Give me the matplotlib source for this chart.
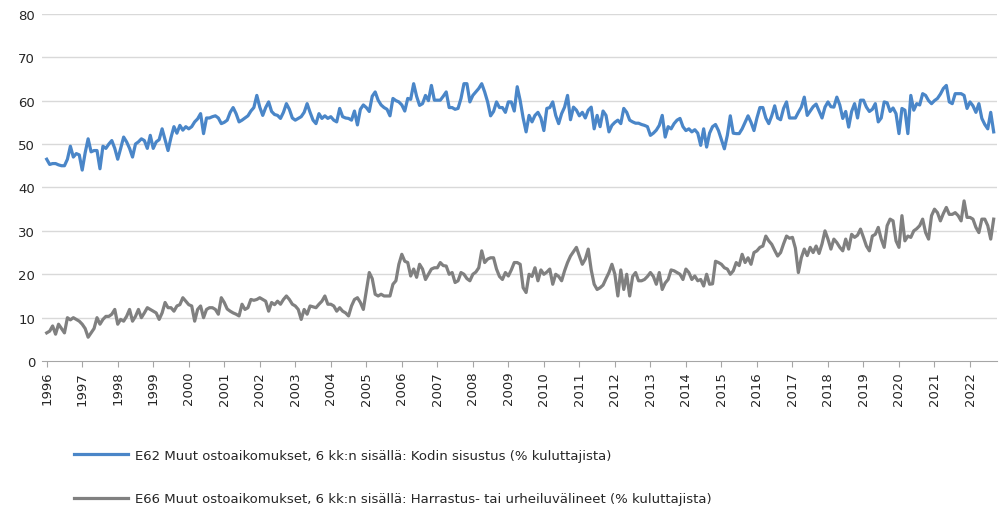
import numpy as np
import matplotlib
matplotlib.use("Agg")
import matplotlib.pyplot as plt

# monthly values, Jan 1996 onwards
start_year = 1996
kodin_sisustus = [
    46.5, 45.3, 45.5, 45.5, 45.2, 45.0, 45.0, 46.5, 49.5, 47.0, 47.8, 47.5,
    44.0, 48.0, 51.2, 48.2, 48.5, 48.5, 44.3, 49.5, 49.0, 50.0, 50.8, 49.0,
    46.5, 49.0, 51.6, 50.5, 49.0, 47.0, 50.0, 50.5, 51.2, 50.8, 49.0, 52.0,
    49.0, 50.5, 51.0, 53.5, 51.0, 48.5, 51.5, 54.0, 52.5, 54.3, 53.2, 54.0,
    53.5, 54.0, 55.1, 55.8, 57.0, 52.4, 56.0, 56.0, 56.3, 56.5, 56.0, 54.7,
    55.0, 55.5, 57.3, 58.4, 57.0, 55.1, 55.5, 56.0, 56.5, 57.6, 58.4, 61.2,
    58.5, 56.6, 58.4, 59.7, 57.5, 56.8, 56.6, 55.9, 57.3, 59.3, 58.0, 56.0,
    55.5, 55.9, 56.3, 57.3, 59.3, 57.3, 55.5, 54.7, 57.0, 55.9, 56.5, 55.9,
    56.3, 55.5, 55.1, 58.2, 56.3, 56.0, 55.9, 55.5, 57.6, 54.4, 58.0, 59.0,
    58.4, 57.5, 61.0, 62.0, 60.1, 59.0, 58.4, 58.0, 56.5, 60.5, 60.0, 59.7,
    59.0, 57.6, 60.5, 60.3, 63.9, 61.0, 58.9, 59.3, 61.2, 60.0, 63.5, 60.1,
    60.1, 60.1, 61.0, 62.0, 58.4, 58.4, 58.0, 58.2, 60.5, 63.9, 63.9, 59.7,
    61.2, 62.0, 62.8, 63.9, 62.0, 59.7, 56.5, 57.5, 59.7, 58.4, 58.4, 57.3,
    59.7, 59.7, 57.6, 63.2, 60.0, 56.0, 52.8, 56.6, 55.1, 56.6, 57.3, 56.0,
    53.1, 58.2, 58.4, 59.7, 56.6, 54.7, 57.0, 58.5, 61.2, 55.6, 58.5, 57.8,
    56.5, 57.3, 56.0, 57.8, 58.5, 53.5, 56.6, 54.0, 57.6, 56.6, 52.8, 54.3,
    55.0, 55.5, 54.7, 58.2, 57.3, 55.5, 55.1, 54.8, 54.8, 54.5, 54.3, 54.0,
    52.0, 52.5, 53.2, 54.3, 56.6, 51.6, 54.0, 53.5, 54.7, 55.5, 55.9, 54.0,
    53.1, 53.5, 52.8, 53.3, 52.5, 49.7, 53.5, 49.3, 52.5, 54.0, 54.5, 53.1,
    51.0, 48.9, 52.0, 56.5, 52.5, 52.4, 52.4, 53.5, 55.0, 56.5, 55.0, 53.1,
    56.0, 58.4, 58.4, 56.0, 54.7, 56.5, 58.8, 56.0, 55.6, 58.2, 59.7, 56.0,
    56.0, 56.0, 57.3, 58.5, 60.8, 56.6, 57.6, 58.6, 59.2, 57.6, 56.0, 58.5,
    59.7, 58.6, 58.5, 60.8, 59.0, 55.9, 57.5, 53.9, 57.5, 59.3, 56.0, 60.1,
    60.1, 58.5, 57.5, 58.0, 59.3, 55.1, 56.0, 59.7, 59.5, 57.5, 58.3, 57.0,
    52.4, 58.2, 57.8, 52.4, 61.2, 57.8, 59.3, 59.0, 61.6, 61.2, 60.0, 59.3,
    60.0, 60.5, 61.5, 62.8, 63.5, 59.7, 59.3, 61.6, 61.6, 61.6, 61.2, 58.2,
    59.7, 58.8, 57.3, 59.3, 55.9, 54.5, 53.5, 57.3, 52.8,
]
harrastus = [
    6.5, 6.9, 8.1, 6.2, 8.5, 7.5, 6.5, 10.0, 9.5, 10.0, 9.6, 9.2,
    8.5, 7.5, 5.5, 6.5, 7.5, 10.0, 8.5, 9.6, 10.3, 10.3, 10.8, 11.9,
    8.5, 9.6, 9.2, 10.3, 11.9, 9.2, 10.3, 11.9, 10.0, 11.1, 12.3, 11.9,
    11.5, 11.1, 9.6, 11.1, 13.5, 12.3, 12.3, 11.5, 12.7, 13.0, 14.6, 13.8,
    13.0, 12.7, 9.2, 11.9, 12.7, 10.0, 11.9, 12.3, 12.3, 11.9, 10.8, 14.6,
    13.5, 12.0, 11.5, 11.1, 10.8, 10.4, 13.1, 11.9, 12.3, 14.2, 14.0, 14.2,
    14.6, 14.2, 13.8, 11.5, 13.5, 13.0, 13.8, 13.1, 14.2, 15.0, 14.2, 13.1,
    12.7, 11.9, 9.6, 11.9, 10.8, 12.7, 12.5, 12.3, 13.1, 13.8, 15.0, 13.1,
    13.1, 12.7, 11.5, 12.3, 11.5, 11.1, 10.4, 12.7, 14.2, 14.6, 13.5, 11.9,
    16.2, 20.4, 19.0, 15.4, 15.0, 15.4, 15.0, 15.0, 15.0, 17.7, 18.5, 22.3,
    24.6, 23.0, 22.7, 19.6, 21.2, 19.3, 22.3, 21.2, 18.8, 20.0, 21.2, 21.5,
    21.5, 22.7, 22.0, 21.9, 20.0, 20.4, 18.1, 18.5, 20.4, 20.0, 19.0, 18.5,
    20.0, 20.5, 21.5, 25.4, 22.7, 23.5, 23.8, 23.8, 21.2, 19.5, 18.8, 20.4,
    19.6, 21.0, 22.7, 22.7, 22.3, 16.9, 15.8, 20.0, 19.5, 21.5, 18.5, 21.0,
    20.0, 20.5, 21.2, 17.7, 20.0, 19.5, 18.5, 20.8, 22.7, 24.2, 25.2, 26.2,
    24.2, 22.3, 23.5, 25.8, 21.0, 17.7, 16.5, 16.9, 17.5, 19.0, 20.4, 22.3,
    20.0, 15.0, 21.0, 16.5, 20.0, 15.0, 19.5, 20.4, 18.5, 18.5, 18.8, 19.5,
    20.4, 19.5, 17.7, 20.4, 16.5, 18.0, 18.8, 21.0, 20.8, 20.4, 20.0, 18.8,
    21.2, 20.4, 18.8, 19.6, 18.5, 18.8, 17.3, 20.0, 17.7, 17.8, 23.0, 22.7,
    22.3, 21.5, 21.2, 20.0, 20.8, 22.7, 22.0, 24.6, 22.7, 23.8, 22.3, 25.0,
    25.4, 26.2, 26.5, 28.8, 27.7, 26.9, 25.5, 24.2, 25.0, 27.0, 28.8, 28.3,
    28.5, 26.0, 20.4, 23.8, 25.8, 24.3, 26.2, 25.0, 26.5, 24.8, 27.0, 30.0,
    28.1, 25.8, 28.1, 27.3, 26.2, 25.4, 28.1, 25.8, 29.2, 28.5, 29.0, 30.4,
    28.5, 26.5, 25.4, 28.8, 29.2, 30.8, 28.1, 26.2, 31.2, 32.7, 32.3, 27.7,
    26.2, 33.5, 27.7, 28.8, 28.5, 30.0, 30.5, 31.2, 32.7, 29.6, 28.1, 33.5,
    35.0, 34.2, 32.3, 34.0, 35.4, 33.8, 33.8, 34.2, 33.5, 32.3, 36.9, 33.1,
    33.1, 32.7, 30.8, 29.6, 32.7, 32.7, 31.2, 28.1, 32.7,
]
years = list(range(1996, 2023))
label_blue = "E62 Muut ostoaikomukset, 6 kk:n sisällä: Kodin sisustus (% kuluttajista)"
label_gray = "E66 Muut ostoaikomukset, 6 kk:n sisällä: Harrastus- tai urheiluvälineet (% kuluttajista)"

t = start_year + np.arange(len(kodin_sisustus)) / 12.0

fig = plt.figure(figsize=(10.02, 5.10), dpi=100)
ax = fig.add_axes([0.042, 0.290, 0.953, 0.681])

for y in range(10, 90, 10):
    ax.axhline(y, color="#d9d9d9", lw=1.0, zorder=0)

l1, = ax.plot(t, kodin_sisustus, color="#4a86c8", lw=2.3, label=label_blue)
l2, = ax.plot(t, harrastus, color="#808080", lw=2.3, label=label_gray)

ax.set_ylim(0, 80)
ax.set_xlim(1995.87, 2022.76)
ax.set_yticks(range(0, 90, 10))
ax.set_xticks(years)
ax.set_xticklabels([str(y) for y in years], rotation=90)
ax.tick_params(axis="y", length=0, pad=5, labelsize=9.5, colors="#262626")
ax.tick_params(axis="x", length=4, color="#a6a6a6", pad=3, labelsize=9.5,
               labelcolor="#262626")
for s in ["top", "right", "left"]:
    ax.spines[s].set_visible(False)
ax.spines["bottom"].set_color("#a6a6a6")

fig.legend(handles=[l1, l2], loc="upper left", bbox_to_anchor=(0.062, 0.141),
           bbox_transform=fig.transFigure, frameon=False, fontsize=9.5,
           handlelength=4.1, handletextpad=0.5, labelspacing=2.3,
           labelcolor="#262626")

fig.savefig("out.png", dpi=100)
